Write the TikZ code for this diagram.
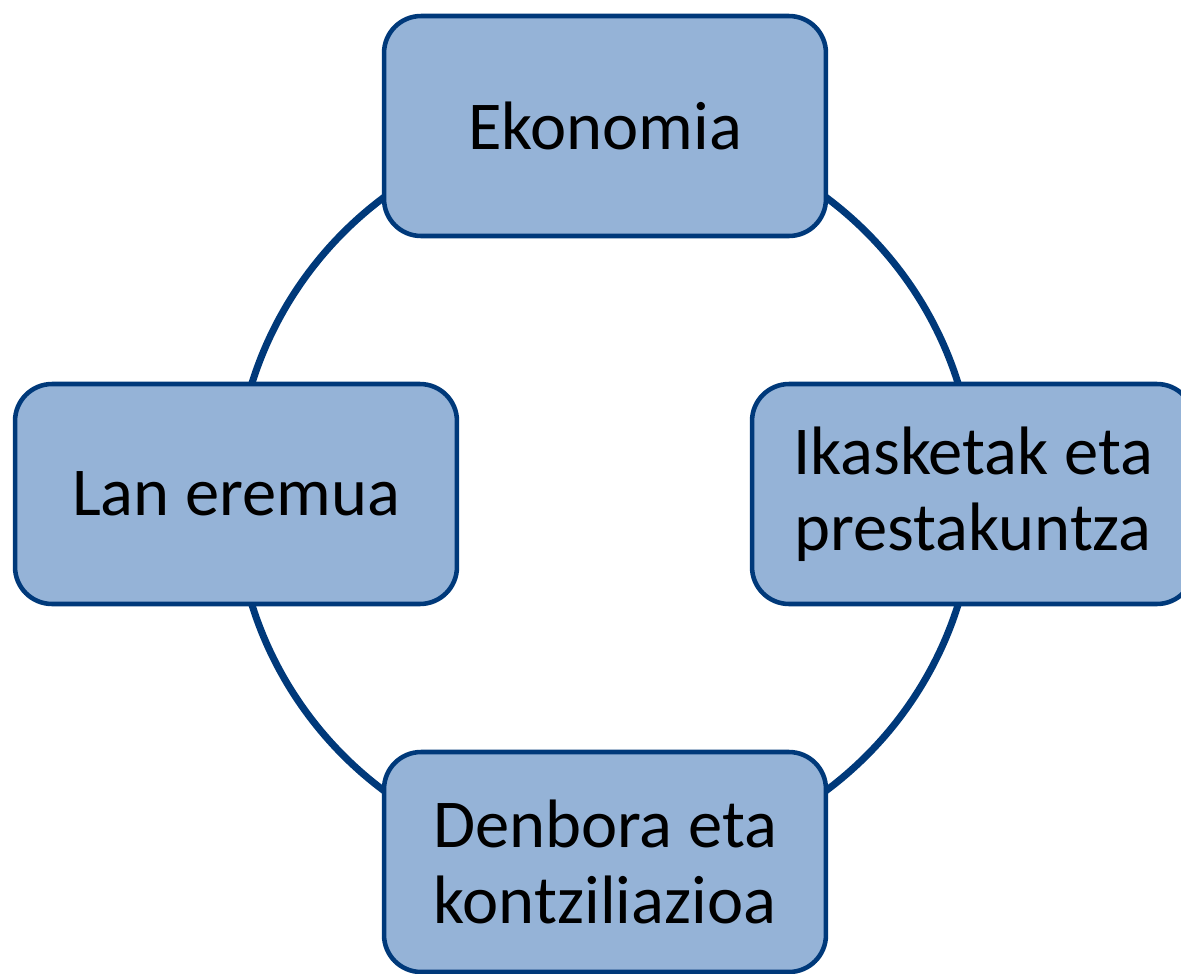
\documentclass[tikz,border=0pt]{standalone}
\usepackage{fontspec}
\setmainfont{Carlito}
\definecolor{ringblue}{RGB}{0,57,122}
\definecolor{boxfill}{RGB}{149,179,215}
\begin{document}
\begin{tikzpicture}[x=0.02cm,y=-0.02cm,
  topic/.style={draw=ringblue, fill=boxfill, line width=2.6pt, rounded corners=0.74cm,
    minimum width=8.84cm, minimum height=4.4cm, align=center, text=black,
    font=\fontsize{39}{43}\selectfont, inner sep=0pt},
  ring/.style={draw=ringblue, line width=4pt}]
\useasboundingbox (0,0) rectangle (1181,974);
\clip (0,0) rectangle (1181,974);
\coordinate (c) at (605,494);
\draw[ring] (c) circle[radius=7.4cm];
\node[topic] (eko) at (605,126) {Ekonomia};
\node[topic] (ika) at (973,494) {Ikasketak eta\\prestakuntza};
\node[topic] (den) at (605,862) {Denbora eta\\kontziliazioa};
\node[topic] (lan) at (236,494) {Lan eremua};
\end{tikzpicture}
\end{document}
